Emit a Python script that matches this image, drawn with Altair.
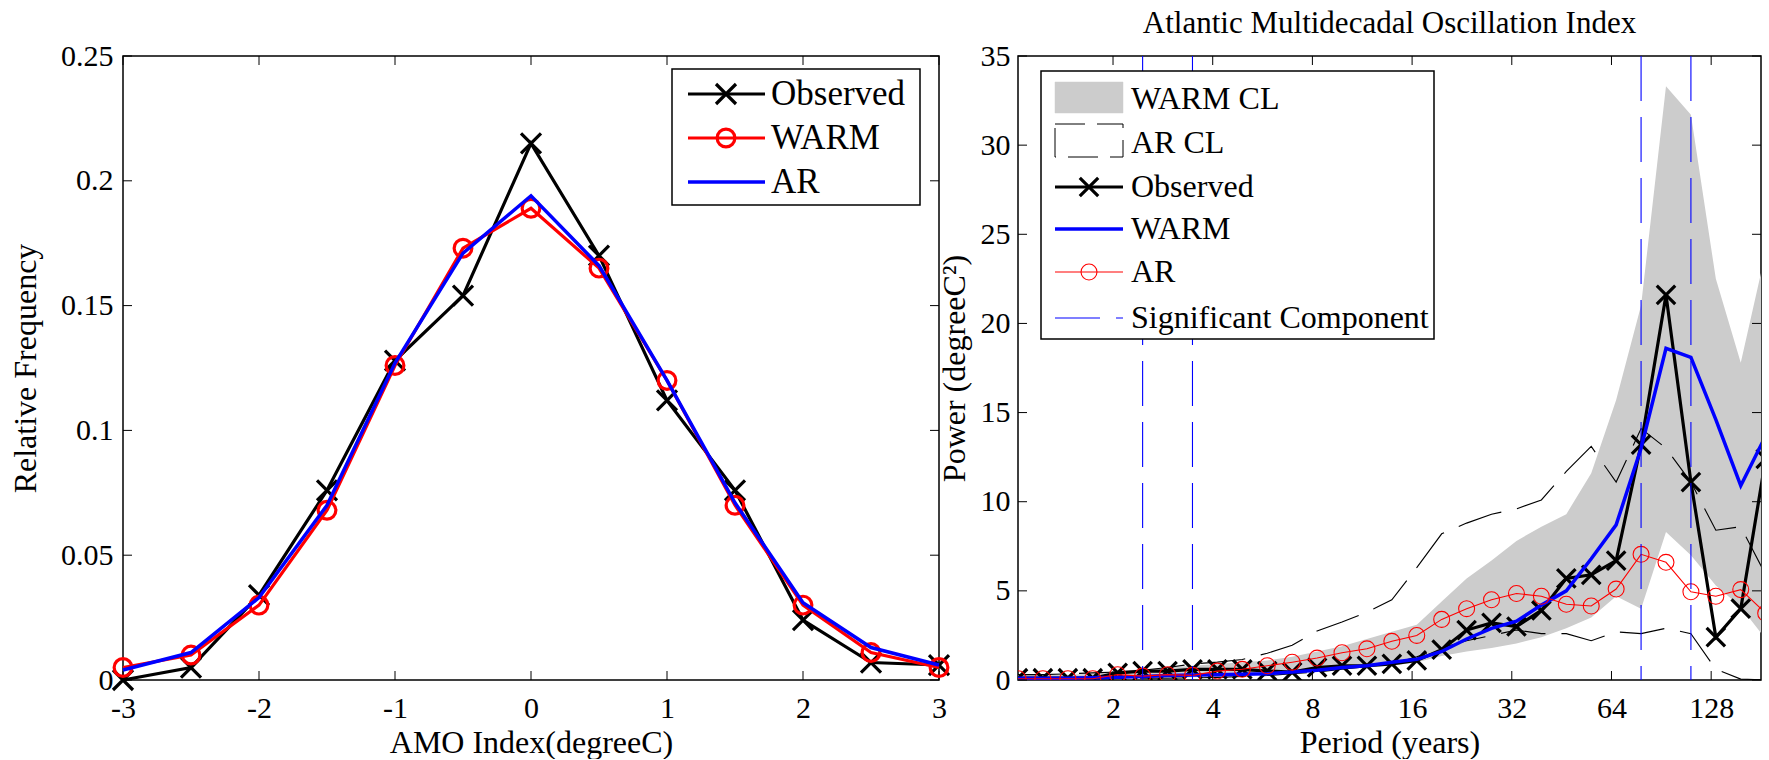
import altair as alt
import pandas as pd

FONT = "Liberation Serif"

# ---------------- left panel: histogram of AMO index ----------------
amo_index = [-3.0, -2.5, -2.0, -1.5, -1.0, -0.5, 0.0, 0.5, 1.0, 1.5, 2.0, 2.5, 3.0]
freq_observed = [0.000, 0.005, 0.034, 0.076, 0.128, 0.154, 0.215, 0.170, 0.112, 0.076, 0.024, 0.007, 0.006]
freq_warm = [0.005, 0.010, 0.030, 0.068, 0.126, 0.173, 0.189, 0.165, 0.120, 0.070, 0.030, 0.011, 0.005]
freq_ar = [0.004, 0.011, 0.033, 0.070, 0.127, 0.171, 0.194, 0.166, 0.120, 0.071, 0.031, 0.013, 0.006]

left_xticks = [-3, -2, -1, 0, 1, 2, 3]
left_yticks = [0, 0.05, 0.1, 0.15, 0.2, 0.25]

# ---------------- right panel: power spectrum ----------------
period_years = [1.033, 1.228, 1.461, 1.737, 2.066, 2.457, 2.922, 3.475, 4.132, 4.914,
                5.844, 6.949, 8.264, 9.828, 11.687, 13.898, 16.528, 19.655, 23.375, 27.797,
                33.056, 39.311, 46.750, 55.595, 66.112, 78.621, 93.497, 111.187, 132.224,
                157.241, 186.99]
power_observed = [0.1, 0.1, 0.1, 0.1, 0.4, 0.5, 0.5, 0.6, 0.6, 0.6,
                  0.5, 0.45, 0.7, 0.8, 0.8, 0.9, 1.1, 1.7, 2.8, 3.2,
                  3.0, 3.9, 5.7, 5.9, 6.7, 13.2, 21.6, 11.1, 2.4, 4.0, 12.4]
power_warm = [0.1, 0.1, 0.1, 0.12, 0.15, 0.2, 0.25, 0.28, 0.3, 0.32,
              0.35, 0.45, 0.55, 0.7, 0.8, 1.0, 1.16, 1.6, 2.3, 2.9,
              3.3, 4.2, 5.0, 6.8, 8.7, 13.0, 18.6, 18.1, 14.6, 10.9, 13.7]
power_ar = [0.07, 0.07, 0.07, 0.07, 0.3, 0.22, 0.3, 0.26, 0.5, 0.6,
            0.8, 1.0, 1.23, 1.53, 1.75, 2.17, 2.5, 3.4, 4.0, 4.5,
            4.85, 4.7, 4.25, 4.15, 5.1, 7.05, 6.6, 4.95, 4.7, 5.07, 3.75]
warm_cl_upper = [0.3, 0.3, 0.3, 0.35, 0.5, 0.6, 0.7, 0.8, 0.9, 1.0,
                 1.1, 1.3, 1.6, 1.9, 2.3, 2.7, 3.1, 4.4, 5.7, 6.7,
                 7.8, 8.6, 9.3, 11.6, 15.7, 21.0, 33.3, 31.7, 22.5, 17.8, 24.0]
warm_cl_lower = [0.05, 0.05, 0.05, 0.05, 0.1, 0.1, 0.1, 0.15, 0.2, 0.25,
                 0.3, 0.4, 0.5, 0.6, 0.7, 0.8, 1.0, 1.35, 1.6, 1.8,
                 2.05, 2.4, 2.9, 3.5, 4.7, 4.0, 8.3, 7.0, 5.3, 4.1, 2.3]
ar_cl_upper = [0.3, 0.3, 0.35, 0.4, 0.45, 0.55, 0.7, 0.9, 1.0, 1.15,
               1.5, 1.95, 2.75, 3.25, 3.8, 4.5, 6.3, 8.2, 8.8, 9.3,
               9.6, 10.1, 11.7, 13.1, 11.1, 14.1, 13.0, 11.1, 8.4, 8.6, 5.9]
ar_cl_lower = [0.05, 0.05, 0.05, 0.05, 0.08, 0.1, 0.1, 0.12, 0.15, 0.2,
               0.25, 0.35, 0.45, 0.6, 0.75, 0.9, 1.3, 1.8, 2.2, 2.5,
               2.8, 2.6, 2.6, 2.2, 2.7, 2.6, 2.9, 2.6, 0.6, 0.05, 0.0]
significant_periods = [2.457, 3.475, 78.621, 111.187]

right_xticks = [2, 4, 8, 16, 32, 64, 128]
right_yticks = [0, 5, 10, 15, 20, 25, 30, 35]

LW, LH = 816, 624
RW, RH = 743, 624
TICK = 9
X_PATH = "M-1,-1L1,1M-1,1L1,-1"


def axis(title, values, label_pad, title_pad, fmt_expr="'' + datum.value"):
    return alt.Axis(title=title, values=values, labelExpr=fmt_expr, ticks=False, tickSize=0,
                    domain=False, grid=False, labelFont=FONT, labelFontSize=30,
                    labelColor="black", titleFont=FONT, titleFontSize=32,
                    titleFontWeight="normal", titleColor="black", labelPadding=label_pad,
                    titlePadding=title_pad, labelFlush=False, labelOverlap=False)


one = pd.DataFrame({"k": [0]})


def text_at(label, x, y, size):
    return alt.Chart(pd.DataFrame({"label": [label]})).mark_text(
        align="left", baseline="middle", font=FONT, fontSize=size, color="black"
    ).encode(x=alt.value(x), y=alt.value(y), text="label:N")


def seg(x1, x2, y, color, width, dash=None):
    kw = dict(color=color, strokeWidth=width)
    if dash:
        kw["strokeDash"] = dash
    return alt.Chart(one).mark_rule(**kw).encode(x=alt.value(x1), x2=alt.value(x2), y=alt.value(y))


def marker(x, y, shape, size, color, width):
    return alt.Chart(one).mark_point(shape=shape, size=size, filled=False, color=color,
                                     strokeWidth=width, opacity=1).encode(
        x=alt.value(x), y=alt.value(y))


def box(x1, x2, y1, y2, fill, stroke, width, dash=None):
    kw = dict(fill=fill, stroke=stroke, strokeWidth=width)
    if dash:
        kw["strokeDash"] = dash
    return alt.Chart(one).mark_rect(**kw).encode(
        x=alt.value(x1), x2=alt.value(x2), y=alt.value(y1), y2=alt.value(y2))


# ================= LEFT PANEL =================
lx = alt.X("x:Q", scale=alt.Scale(domain=[-3, 3], nice=False),
           axis=axis("AMO Index(degreeC)", left_xticks, 13, 4))
ly = alt.Y("y:Q", scale=alt.Scale(domain=[0, 0.25], nice=False),
           axis=axis("Relative Frequency", left_yticks, 10, 18,
                     "format(datum.value, '.2~f')"))

df_lo = pd.DataFrame({"x": amo_index, "y": freq_observed})
df_lw = pd.DataFrame({"x": amo_index, "y": freq_warm})
df_la = pd.DataFrame({"x": amo_index, "y": freq_ar})

l_obs_line = alt.Chart(df_lo).mark_line(color="black", strokeWidth=3.2).encode(x=lx, y=ly)
l_obs_pts = alt.Chart(df_lo).mark_point(shape=X_PATH, size=400, filled=False, color="black",
                                        strokeWidth=3.2, opacity=1).encode(x=lx, y=ly)
l_warm_line = alt.Chart(df_lw).mark_line(color="red", strokeWidth=3.2).encode(x=lx, y=ly)
l_warm_pts = alt.Chart(df_lw).mark_point(shape="circle", size=314, filled=False, color="red",
                                         strokeWidth=3.2, opacity=1).encode(x=lx, y=ly)
l_ar_line = alt.Chart(df_la).mark_line(color="blue", strokeWidth=3.5).encode(x=lx, y=ly)

lxt = pd.DataFrame({"x": left_xticks})
lyt = pd.DataFrame({"y": left_yticks})
l_ticks = [
    alt.Chart(lxt).mark_rule(color="black", strokeWidth=1).encode(x=lx, y=alt.value(LH), y2=alt.value(LH - TICK)),
    alt.Chart(lxt).mark_rule(color="black", strokeWidth=1).encode(x=lx, y=alt.value(0), y2=alt.value(TICK)),
    alt.Chart(lyt).mark_rule(color="black", strokeWidth=1).encode(y=ly, x=alt.value(0), x2=alt.value(TICK)),
    alt.Chart(lyt).mark_rule(color="black", strokeWidth=1).encode(y=ly, x=alt.value(LW - TICK), x2=alt.value(LW)),
]

# legend (left)
L_BX1, L_BX2, L_BY1, L_BY2 = 549, 797, 13, 149
l_rows = [38, 82, 126]
l_sym1, l_sym2, l_mid, l_txt = 565, 642, 603, 648
LFS = 35
l_legend = [
    box(L_BX1, L_BX2, L_BY1, L_BY2, "white", "black", 1.5),
    seg(l_sym1, l_sym2, l_rows[0], "black", 3.2),
    marker(l_mid, l_rows[0], X_PATH, 400, "black", 3.2),
    text_at("Observed", l_txt, l_rows[0], LFS),
    seg(l_sym1, l_sym2, l_rows[1], "red", 3.2),
    marker(l_mid, l_rows[1], "circle", 314, "red", 3.2),
    text_at("WARM", l_txt, l_rows[1], LFS),
    seg(l_sym1, l_sym2, l_rows[2], "blue", 3.5),
    text_at("AR", l_txt, l_rows[2], LFS),
]

left = alt.layer(
    *l_ticks, l_obs_line, l_obs_pts, l_warm_line, l_warm_pts, l_ar_line, *l_legend
).properties(width=LW, height=LH)

# ================= RIGHT PANEL =================
rx = alt.X("p:Q", scale=alt.Scale(type="log", base=2, domain=[1.033, 181], nice=False),
           axis=axis("Period (years)", right_xticks, 13, 4))
ry = alt.Y("v:Q", scale=alt.Scale(domain=[0, 35], nice=False),
           axis=axis("Power (degreeC²)", right_yticks, 8, 9))
ry2 = alt.Y2("v2:Q")

df_band = pd.DataFrame({"p": period_years, "v": warm_cl_upper, "v2": warm_cl_lower})
df_acu = pd.DataFrame({"p": period_years, "v": ar_cl_upper})
df_acl = pd.DataFrame({"p": period_years, "v": ar_cl_lower})
df_ro = pd.DataFrame({"p": period_years, "v": power_observed})
df_rw = pd.DataFrame({"p": period_years, "v": power_warm})
df_ra = pd.DataFrame({"p": period_years, "v": power_ar})
df_sig = pd.DataFrame({"p": significant_periods})

DASH = [45, 16]
r_band = alt.Chart(df_band).mark_area(color="#cccccc", opacity=1, clip=True).encode(x=rx, y=ry, y2=ry2)
r_acu = alt.Chart(df_acu).mark_line(color="black", strokeWidth=1.1, strokeDash=DASH, clip=True).encode(x=rx, y=ry)
r_acl = alt.Chart(df_acl).mark_line(color="black", strokeWidth=1.1, strokeDash=DASH, clip=True).encode(x=rx, y=ry)
r_obs_line = alt.Chart(df_ro).mark_line(color="black", strokeWidth=3.2, clip=True).encode(x=rx, y=ry)
r_obs_pts = alt.Chart(df_ro).mark_point(shape=X_PATH, size=340, filled=False, color="black",
                                        strokeWidth=3.2, opacity=1, clip=True).encode(x=rx, y=ry)
r_warm_line = alt.Chart(df_rw).mark_line(color="blue", strokeWidth=3.5, clip=True).encode(x=rx, y=ry)
r_ar_line = alt.Chart(df_ra).mark_line(color="red", strokeWidth=1.1, clip=True).encode(x=rx, y=ry)
r_ar_pts = alt.Chart(df_ra).mark_point(shape="circle", size=254, filled=False, color="red",
                                       strokeWidth=1.1, opacity=1, clip=True).encode(x=rx, y=ry)
r_sig = alt.Chart(df_sig).mark_rule(color="blue", strokeWidth=1.1, strokeDash=DASH).encode(x=rx)

rxt = pd.DataFrame({"p": right_xticks})
ryt = pd.DataFrame({"v": right_yticks})
r_ticks = [
    alt.Chart(rxt).mark_rule(color="black", strokeWidth=1).encode(x=rx, y=alt.value(RH), y2=alt.value(RH - TICK)),
    alt.Chart(rxt).mark_rule(color="black", strokeWidth=1).encode(x=rx, y=alt.value(0), y2=alt.value(TICK)),
    alt.Chart(ryt).mark_rule(color="black", strokeWidth=1).encode(y=ry, x=alt.value(0), x2=alt.value(TICK)),
    alt.Chart(ryt).mark_rule(color="black", strokeWidth=1).encode(y=ry, x=alt.value(RW - TICK), x2=alt.value(RW)),
]

# legend (right)
R_BX1, R_BX2, R_BY1, R_BY2 = 23, 416, 15, 283
r_rows = [43, 87, 131, 173, 216, 262]
r_sym1, r_sym2, r_mid, r_txt = 37, 105, 71, 113
RFS = 32
r_legend = [
    box(R_BX1, R_BX2, R_BY1, R_BY2, "white", "black", 1.5),
    box(r_sym1, r_sym2, r_rows[0] - 17, r_rows[0] + 14, "#cccccc", "#cccccc", 0.5),
    text_at("WARM CL", r_txt, r_rows[0], RFS),
    box(r_sym1, r_sym2, r_rows[1] - 19, r_rows[1] + 14, "white", "black", 1, [30, 12]),
    text_at("AR CL", r_txt, r_rows[1], RFS),
    seg(r_sym1, r_sym2, r_rows[2], "black", 3.2),
    marker(r_mid, r_rows[2], X_PATH, 340, "black", 3.2),
    text_at("Observed", r_txt, r_rows[2], RFS),
    seg(r_sym1, r_sym2, r_rows[3], "blue", 3.5),
    text_at("WARM", r_txt, r_rows[3], RFS),
    seg(r_sym1, r_sym2, r_rows[4], "red", 1.1),
    marker(r_mid, r_rows[4], "circle", 254, "red", 1.1),
    text_at("AR", r_txt, r_rows[4], RFS),
    seg(r_sym1, r_sym2, r_rows[5], "blue", 1.1, DASH),
    text_at("Significant Component", r_txt, r_rows[5], RFS),
]

right = alt.layer(
    r_band, r_acu, r_acl, r_obs_line, r_obs_pts, r_warm_line, r_ar_line, r_ar_pts, r_sig,
    *r_ticks, *r_legend
).properties(
    width=RW, height=RH,
    title=alt.TitleParams("Atlantic Multidecadal Oscillation Index", font=FONT, fontSize=31,
                          fontWeight="normal", anchor="middle", color="black", offset=1,
                          frame="group"),
)

chart = alt.hconcat(left, right, spacing=-20).properties(
    padding={"left": 8, "top": 7, "right": 4, "bottom": 0},
    background="white",
).configure_view(stroke="black", strokeWidth=1.5)

chart.save("out.html", embed_options={"renderer": "svg", "actions": False})
